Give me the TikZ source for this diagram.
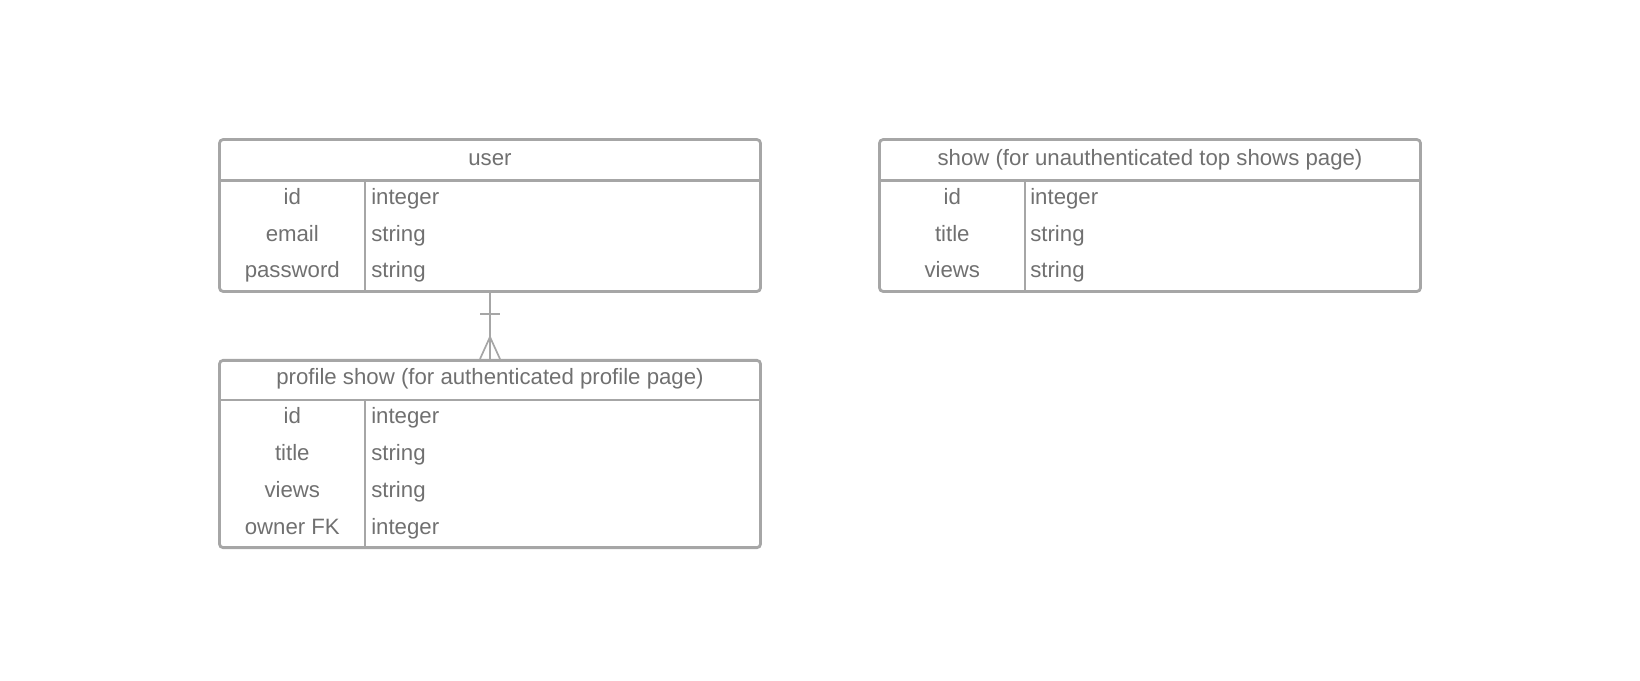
\documentclass[tikz,border=0pt]{standalone}
\usepackage{fontspec}
\setmainfont{Liberation Sans}
\usepackage{xcolor}
\usetikzlibrary{positioning, calc}
\definecolor{linegray}{HTML}{A6A6A6}
\definecolor{textgray}{HTML}{707070}
\tikzset{
    table/.style={draw=linegray, line width=2pt, rounded corners=2.5pt, minimum width=13.52cm, inner sep=0pt},
    rule/.style={draw=linegray, line width=2pt},
    link/.style={draw=linegray, line width=1.2pt},
    title/.style={text=textgray, font=\fontsize{15.8}{19}\selectfont, anchor=mid},
    field/.style={text=textgray, font=\fontsize{15.8}{19}\selectfont, anchor=mid},
    ftype/.style={text=textgray, font=\fontsize{15.8}{19}\selectfont, anchor=mid west, inner sep=0pt}
}
\begin{document}
\begin{tikzpicture}[x=0.025cm, y=-0.025cm]
\useasboundingbox (0,0) rectangle (1640,680);

% user table
\node[table, minimum height=3.795cm] (user) at (490,215.5) {};
\draw[rule] (219.6,180.5) -- (760.4,180.5);
\draw[rule] (365,180.5) -- (365,291.4);
\node[title] (usertitle) at (490,161.5) {user};
\node[field] (userid) at (292.3,200.5) {id};
\node[field] (useremail) at (292.3,237.3) {email};
\node[field] (userpass) at (292.3,274.1) {password};
\node[ftype] (useridt) at (371,200.5) {integer};
\node[ftype] (useremailt) at (371,237.3) {string};
\node[ftype] (userpasst) at (371,274.1) {string};

% show table
\node[table, minimum height=3.795cm] (show) at (1150,215.5) {};
\draw[rule] (879.6,180.5) -- (1420.4,180.5);
\draw[rule] (1025,180.5) -- (1025,291.4);
\node[title] (showtitle) at (1150,161.5) {show (for unauthenticated top shows page)};
\node[field] (showid) at (952.3,200.5) {id};
\node[field] (showtitlef) at (952.3,237.3) {title};
\node[field] (showviews) at (952.3,274.1) {views};
\node[ftype] (showidt) at (1030,200.5) {integer};
\node[ftype] (showtitlet) at (1030,237.3) {string};
\node[ftype] (showviewst) at (1030,274.1) {string};

% profile show table
\node[table, minimum height=4.68cm] (profile) at (490,454) {};
\draw[rule] (219.6,400) -- (760.4,400);
\draw[rule] (365,400) -- (365,547.6);
\node[title] (proftitle) at (490,381) {profile show (for authenticated profile page)};
\node[field] (profid) at (292.3,420) {id};
\node[field] (proftitlef) at (292.3,456.8) {title};
\node[field] (profviews) at (292.3,493.6) {views};
\node[field] (profowner) at (292.3,530.4) {owner FK};
\node[ftype] (profidt) at (371,420) {integer};
\node[ftype] (proftitlet) at (371,456.8) {string};
\node[ftype] (profviewst) at (371,493.6) {string};
\node[ftype] (profownert) at (371,530.4) {integer};

% one user to many profile shows
\draw[link] (user.south) -- (profile.north);
\draw[link] ($(user.south)+(-10,21.5)$) -- ($(user.south)+(10,21.5)$);
\draw[link] ($(profile.north)+(-10,0)$) -- ($(profile.north)+(0,-22)$) -- ($(profile.north)+(10,0)$);
\end{tikzpicture}
\end{document}
